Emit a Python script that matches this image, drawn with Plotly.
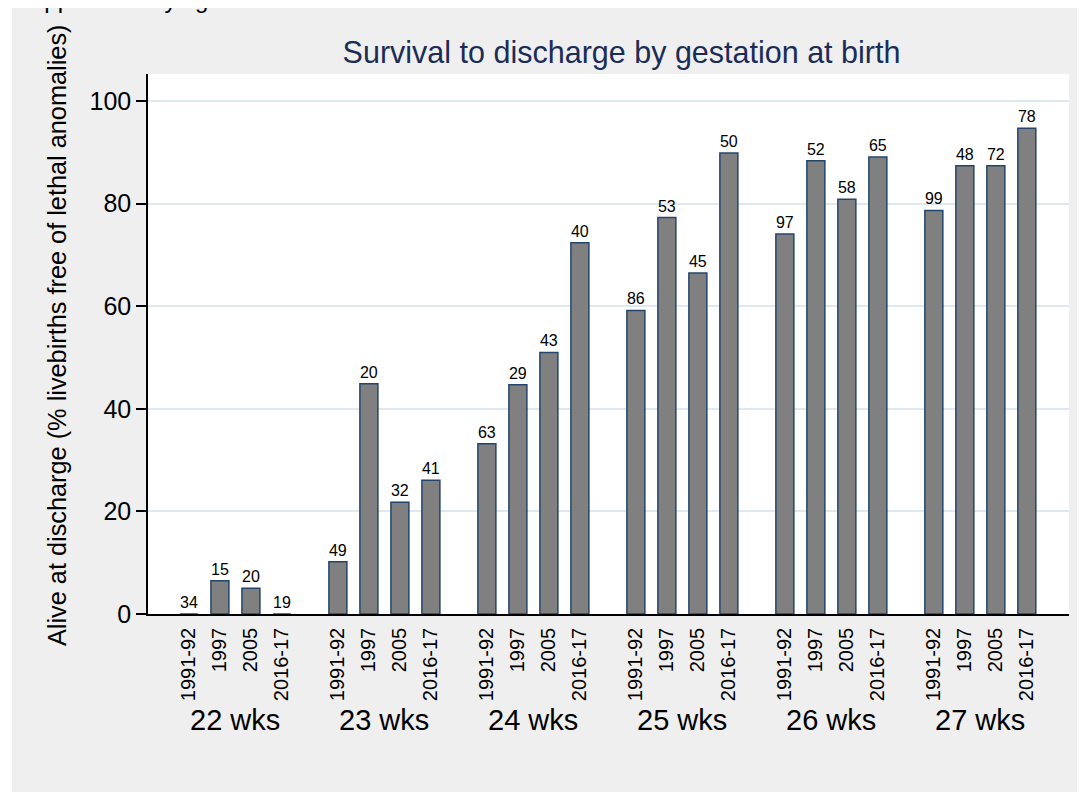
import plotly.graph_objects as go

groups = ["22 wks", "23 wks", "24 wks", "25 wks", "26 wks", "27 wks"]
periods = ["1991-92", "1997", "2005", "2016-17"]

# % alive at discharge, one list per gestation week (periods in order)
surv_22 = [0.0, 6.5, 5.0, 0.0]
surv_23 = [10.2, 44.9, 21.8, 26.1]
surv_24 = [33.2, 44.7, 51.0, 72.4]
surv_25 = [59.2, 77.3, 66.5, 89.9]
surv_26 = [74.1, 88.4, 80.9, 89.1]
surv_27 = [78.7, 87.4, 87.4, 94.7]

# number of livebirths (bar labels)
n_22 = [34, 15, 20, 19]
n_23 = [49, 20, 32, 41]
n_24 = [63, 29, 43, 40]
n_25 = [86, 53, 45, 50]
n_26 = [97, 52, 58, 65]
n_27 = [99, 48, 72, 78]

survival = [surv_22, surv_23, surv_24, surv_25, surv_26, surv_27]
counts = [n_22, n_23, n_24, n_25, n_26, n_27]

GROUP_STEP = 4.806  # group spacing in slot units
FONT = "Liberation Sans, Arial, sans-serif"

W, H = 1077, 784           # page body margin of 8px is added by the browser
L, R, T, B = 140, 16, 66, 178
PW, PH = W - L - R, H - T - B

xs, ys, txt, ticktext = [], [], [], []
for gi, g in enumerate(groups):
    for pi, p in enumerate(periods):
        xs.append(gi * GROUP_STEP + pi)
        ys.append(survival[gi][pi])
        txt.append(str(counts[gi][pi]))
        ticktext.append(p)

fig = go.Figure()
fig.add_trace(go.Bar(
    x=xs, y=ys, width=0.58,
    marker=dict(color="#808080", line=dict(color="#24456b", width=1.5)),
    text=txt, textposition="outside", constraintext="none",
    textfont=dict(family=FONT, size=16, color="black"),
    cliponaxis=False, showlegend=False, hoverinfo="skip",
))


def px_x(px):
    return (px - L) / PW


def px_y(py):
    return (T + PH - py) / PH


annotations = []
for gi, g in enumerate(groups):
    annotations.append(dict(
        x=gi * GROUP_STEP + 1.5, xref="x", y=px_y(712), yref="paper",
        text=g, showarrow=False, xanchor="center", yanchor="middle",
        font=dict(family=FONT, size=29, color="black"),
    ))
# y axis title
annotations.append(dict(
    x=px_x(49), xref="paper", y=px_y(328), yref="paper",
    text="Alive at discharge (% livebirths free of lethal anomalies)",
    textangle=-90, showarrow=False, xanchor="center", yanchor="middle",
    font=dict(family=FONT, size=25.3, color="black"),
))
# cut-off caption at the very top
annotations.append(dict(
    x=px_x(5), xref="paper", y=px_y(-9), yref="paper",
    text="Supplementary figure", showarrow=False, xanchor="left", yanchor="middle",
    font=dict(family=FONT, size=24, color="black"),
))

shapes = [
    dict(type="rect", xref="paper", yref="paper", x0=px_x(-20), x1=px_x(4),
         y0=px_y(H + 20), y1=px_y(-20), fillcolor="white", line=dict(width=0), layer="below"),
]

fig.update_layout(
    width=W, height=H,
    margin=dict(l=L, r=R, t=T, b=B, autoexpand=False),
    paper_bgcolor="#efefef", plot_bgcolor="white",
    font=dict(family=FONT, color="black"),
    title=dict(text="Survival to discharge by gestation at birth",
               x=613.5 / W, xref="container", xanchor="center",
               y=1 - 44 / H, yref="container", yanchor="middle",
               font=dict(family=FONT, size=30.5, color="#1b2c57")),
    xaxis=dict(range=[-1.32, 28.39], tickvals=xs, ticktext=ticktext,
               tickangle=-90, ticks="", showgrid=False, zeroline=False,
               showline=True, linecolor="black", linewidth=1.5,
               tickfont=dict(family=FONT, size=20, color="black"),
               ticklabelstandoff=4),
    yaxis=dict(range=[0, 105.3], tickvals=[0, 20, 40, 60, 80, 100],
               ticks="outside", ticklen=10, tickwidth=1.5, tickcolor="black",
               showline=True, linecolor="black", linewidth=1.5,
               gridcolor="#dde9ee", gridwidth=2, zeroline=False,
               tickfont=dict(family=FONT, size=25, color="black")),
    annotations=annotations, shapes=shapes,
)

fig.write_html("out.html")
